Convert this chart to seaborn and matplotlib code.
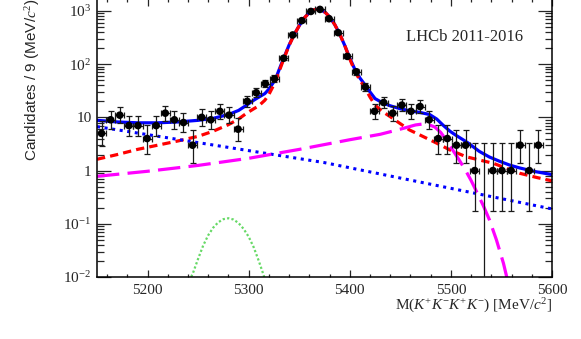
import numpy as np
import pandas as pd
import matplotlib
matplotlib.use("Agg")
import matplotlib.pyplot as plt
import seaborn as sns
from matplotlib.ticker import FixedLocator, FixedFormatter, MultipleLocator, LogLocator, NullFormatter

# binned data, 9 MeV bins
mass = [5154.5, 5163.5, 5172.5, 5181.5, 5190.5, 5199.5, 5208.5, 5217.5, 5226.5, 5235.5,
        5244.5, 5253.5, 5262.5, 5271.5, 5280.5, 5289.5, 5298.5, 5307.5, 5316.5, 5325.5,
        5334.5, 5343.5, 5352.5, 5361.5, 5370.5, 5379.5, 5388.5, 5397.5, 5406.5, 5415.5,
        5424.5, 5433.5, 5442.5, 5451.5, 5460.5, 5469.5, 5478.5, 5487.5, 5496.5, 5505.5,
        5514.5, 5523.5, 5532.5, 5541.5, 5550.5, 5559.5, 5568.5, 5577.5, 5586.5]
counts = [5, 9, 11, 7, 7, 4, 7, 12, 9, 8,
          3, 10, 9, 13, 11, 6, 20, 29, 43, 53,
          129, 354, 658, 980, 1070, 715, 391, 140, 72, 37,
          13, 19, 12, 17, 13, 16, 9, 4, 4, 3,
          3, 1, 0, 1, 1, 1, 3, 1, 3]
half_bin = 4.5
empty_bin_upper = 3.3

# fit components
total_x = [5150, 5170, 5190, 5210, 5230, 5250, 5265, 5280, 5290, 5298, 5305, 5310, 5316, 5320,
           5324, 5327, 5330, 5335, 5340, 5345, 5350, 5355, 5360, 5365, 5368, 5372, 5376, 5380,
           5385, 5390, 5395, 5400, 5405, 5410, 5415, 5420, 5425, 5432, 5440, 5450, 5460, 5470,
           5479, 5486, 5492, 5499, 5505, 5512, 5517, 5528, 5538, 5548, 5558, 5568, 5583, 5600]
total_y = [8.8, 8.2, 7.9, 7.9, 8.2, 8.8, 9.6, 11.3, 13.5, 17, 21, 24, 28, 34,
           44, 55, 78, 135, 230, 360, 530, 740, 930, 1060, 1075, 1040, 930, 770,
           560, 370, 225, 130, 80, 55, 41, 30, 22.5, 19, 16.5, 14.5, 13.2, 12.3,
           11.3, 9.3, 7.2, 5.5, 4.6, 3.8, 3.3, 2.3, 1.8, 1.5, 1.27, 1.12, 0.96, 0.84]

sig_x = [5150, 5170, 5190, 5210, 5230, 5250, 5265, 5280, 5290, 5298, 5305, 5310, 5316, 5320,
         5324, 5327, 5330, 5335, 5340, 5345, 5350, 5355, 5360, 5365, 5368, 5372, 5376, 5380,
         5385, 5390, 5395, 5400, 5405, 5410, 5415, 5420, 5425, 5432, 5440, 5450, 5459, 5470,
         5479, 5490, 5499, 5515, 5530, 5542, 5555, 5568, 5585, 5600]
sig_y = [1.63, 2.0, 2.5, 3.0, 3.6, 4.4, 5.5, 7.3, 9.3, 12, 14.5, 16.5, 21, 27,
         38, 50, 72, 130, 225, 360, 530, 740, 930, 1060, 1075, 1040, 930, 770,
         560, 370, 225, 125, 74, 50, 36, 24, 17, 13, 10.3, 7.6, 5.8, 4.6,
         3.8, 3.0, 2.44, 1.82, 1.55, 1.37, 1.1, 0.89, 0.74, 0.64]

comb_x = [5150, 5375, 5600]
comb_y = [6.7, 1.41, 0.19]

part_x = [5150, 5200, 5250, 5300, 5350, 5400, 5430, 5450, 5465, 5472, 5478, 5484, 5490,
          5496, 5502, 5508, 5514, 5520, 5526, 5532, 5538, 5545, 5552, 5558]
part_y = [0.78, 0.97, 1.25, 1.7, 2.5, 3.8, 4.8, 6.0, 7.2, 7.5, 7.3, 6.6, 5.2,
          3.6, 2.4, 1.6, 1.05, 0.65, 0.38, 0.22, 0.12, 0.05, 0.018, 0.006]

peak_x = [5236, 5240, 5245, 5250, 5255, 5260, 5265, 5270, 5275, 5280, 5285, 5290, 5295,
          5300, 5305, 5310, 5315, 5320]
peak_y = [0.005, 0.0075, 0.012, 0.022, 0.039, 0.061, 0.085, 0.107, 0.122, 0.127, 0.12, 0.103,
          0.08, 0.057, 0.036, 0.02, 0.0105, 0.005]

y_ticks = [0.01, 0.1, 1, 10, 100, 1000]
y_labels = [r"$10^{-2}$", r"$10^{-1}$", "1", "10", r"$10^{2}$", r"$10^{3}$"]
x_ticks = [5200, 5300, 5400, 5500, 5600]
x_labels = ["5200", "5300", "5400", "5500", "5600"]

sns.set_style("ticks")
plt.rcParams['font.family'] = ['Liberation Serif', 'DejaVu Serif']
plt.rcParams['mathtext.fontset'] = 'custom'
plt.rcParams['mathtext.rm'] = 'Liberation Serif'
plt.rcParams['mathtext.it'] = 'Liberation Serif:italic'
plt.rcParams['mathtext.bf'] = 'Liberation Serif:bold'

fig = plt.figure(figsize=(5.81, 3.39), dpi=100)
ax = fig.add_axes([0.167, 0.183, 0.7831, 0.820])

df = pd.DataFrame({"mass": mass, "counts": counts})
n = df["counts"].to_numpy(dtype=float)
nz = np.where(n > 0, n, 1.0)
lo = np.where(n > 0, n - nz * (1 - 1 / (9 * nz) - 1 / (3 * np.sqrt(nz))) ** 3, 0.0)
hi = (n + 1) * (1 - 1 / (9 * (n + 1)) + 1 / (3 * np.sqrt(n + 1))) ** 3 - n
hi = np.where(n > 0, hi, empty_bin_upper)

blue = "#0000ff"
sns.lineplot(x=total_x, y=total_y, ax=ax, color=blue, lw=2.3, sort=False)
l = sns.lineplot(x=sig_x, y=sig_y, ax=ax, color="#ff0000", lw=2.3, sort=False).lines[-1]
l.set_dashes((2.6, 1.6)); l.set_dash_capstyle("butt")
l = sns.lineplot(x=comb_x, y=comb_y, ax=ax, color=blue, lw=2.2, sort=False).lines[-1]
l.set_dashes((1.0, 1.5)); l.set_dash_capstyle("butt")
l = sns.lineplot(x=part_x, y=part_y, ax=ax, color="#ff00ff", lw=2.3, sort=False).lines[-1]
l.set_dashes((7.0, 2.6)); l.set_dash_capstyle("butt")
l = sns.lineplot(x=peak_x, y=peak_y, ax=ax, color="#66d966", lw=1.6, sort=False).lines[-1]
l.set_dashes((1.0, 1.0)); l.set_dash_capstyle("butt")

ax.errorbar(df["mass"], n, yerr=[lo, hi], xerr=half_bin, fmt="none",
            ecolor="#1a1a1a", elinewidth=0.9, capsize=2, capthick=0.9, zorder=5)
sns.scatterplot(data=df[df["counts"] > 0], x="mass", y="counts", ax=ax, color="black",
                s=30, edgecolor="none", zorder=6, legend=False)

ax.set_yscale("log", nonpositive="clip")
ax.set_xlim(5150, 5600)
ax.set_ylim(0.01, 1680)

ax.xaxis.set_major_locator(FixedLocator(x_ticks))
ax.xaxis.set_major_formatter(FixedFormatter(x_labels))
ax.xaxis.set_minor_locator(MultipleLocator(20))
ax.yaxis.set_major_locator(FixedLocator(y_ticks))
ax.yaxis.set_major_formatter(FixedFormatter(y_labels))
ax.yaxis.set_minor_locator(LogLocator(base=10, subs=np.arange(2, 10)))
ax.yaxis.set_minor_formatter(NullFormatter())

ax.tick_params(which="both", direction="in", top=True, right=True, width=0.9, labelsize=11)
ax.tick_params(axis="x", which="major", length=5, pad=5)
ax.tick_params(axis="x", which="minor", length=2.5)
ax.tick_params(axis="y", which="major", length=10, pad=4)
ax.tick_params(axis="y", which="minor", length=5)
for s in ax.spines.values():
    s.set_linewidth(1.1)
    s.set_color("black")

ax.set_ylabel(r"Candidates / 9 (MeV/$c^2$)", family="Liberation Sans", fontsize=11, loc="top")
ax.yaxis.set_label_coords(-0.12, 1.0)
ax.set_xlabel(r"M($K^{+}K^{-}K^{+}K^{-}$) [MeV/$c^{2}$]", fontsize=11, loc="right")
ax.xaxis.set_label_coords(1.0, -0.07)

ax.text(0.807, 0.863, "LHCb 2011-2016", transform=ax.transAxes, ha="center", va="center",
        fontsize=12)

fig.savefig("out.png", dpi=100)
